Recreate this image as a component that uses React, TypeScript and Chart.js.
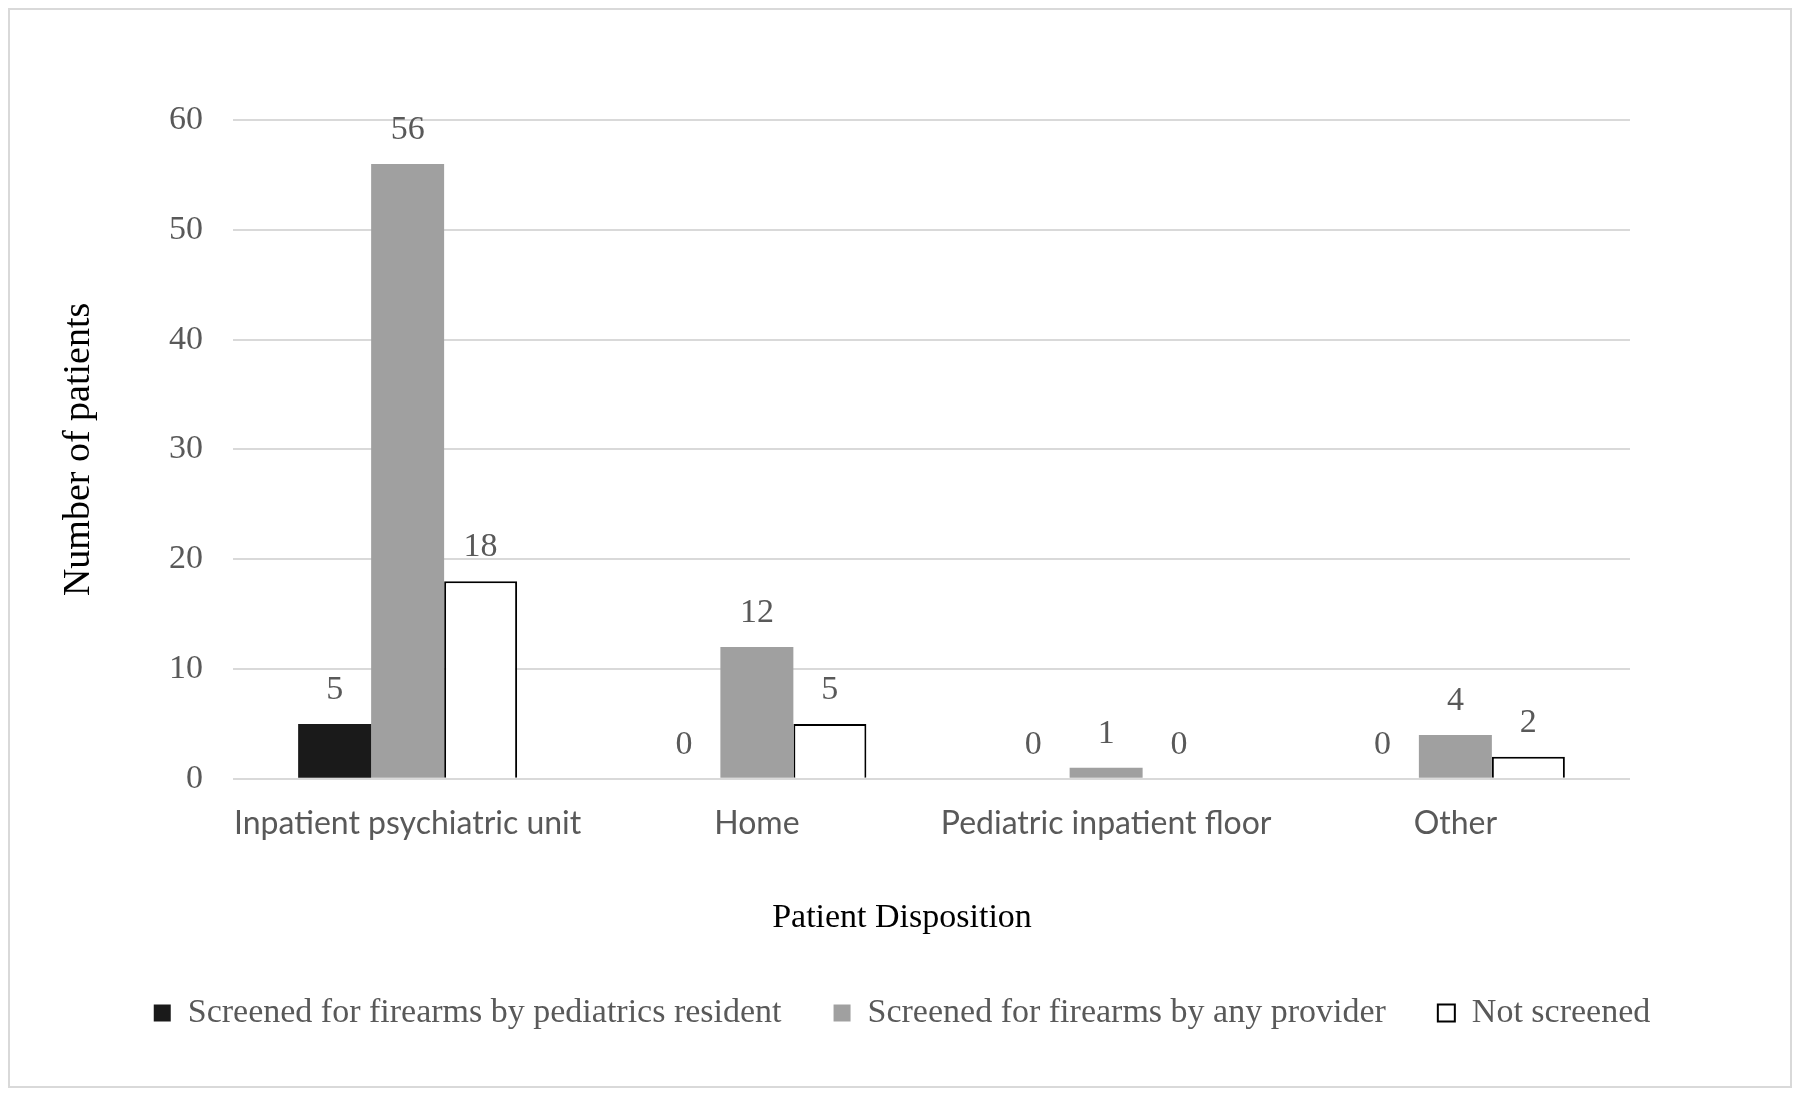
import React, { useEffect, useRef } from "react";
import { Chart, registerables } from "chart.js";

Chart.register(...registerables);

const categories = ["Inpatient psychiatric unit", "Home", "Pediatric inpatient floor", "Other"];
const screenedByResident = [5, 0, 0, 0];
const screenedByAnyProvider = [56, 12, 1, 4];
const notScreened = [18, 5, 0, 2];
const yTicks = [0, 10, 20, 30, 40, 50, 60];
const seriesLabels = [
  "Screened for firearms by pediatrics resident",
  "Screened for firearms by any provider",
  "Not screened",
];

const SERIF = "'Liberation Serif', 'Times New Roman', serif";
const SANS = "Lato, 'Open Sans', sans-serif";
const GRAY_TEXT = "#595959";

const valueLabels = {
  id: "valueLabels",
  afterDatasetsDraw(chart: any) {
    const ctx = chart.ctx;
    ctx.save();
    ctx.font = `34px ${SERIF}`;
    ctx.fillStyle = GRAY_TEXT;
    ctx.textAlign = "center";
    ctx.textBaseline = "middle";
    chart.data.datasets.forEach((ds: any, i: number) => {
      const meta = chart.getDatasetMeta(i);
      meta.data.forEach((el: any, j: number) => {
        ctx.fillText(String(ds.data[j]), el.x, el.y - 34);
      });
    });
    ctx.restore();
  },
};

export default function App() {
  const ref = useRef<HTMLCanvasElement | null>(null);

  useEffect(() => {
    if (!ref.current) return;
    const chart = new Chart(ref.current, {
      type: "bar",
      data: {
        labels: categories,
        datasets: [
          {
            label: seriesLabels[0],
            data: screenedByResident,
            backgroundColor: "#1a1a1a",
            borderWidth: 0,
            categoryPercentage: 0.627,
            barPercentage: 1.0,
          },
          {
            label: seriesLabels[1],
            data: screenedByAnyProvider,
            backgroundColor: "#a0a0a0",
            borderWidth: 0,
            categoryPercentage: 0.627,
            barPercentage: 1.0,
          },
          {
            label: seriesLabels[2],
            data: notScreened,
            backgroundColor: "#ffffff",
            borderColor: "#000000",
            borderWidth: 2,
            categoryPercentage: 0.627,
            barPercentage: 1.0,
          },
        ],
      },
      options: {
        responsive: false,
        animation: false,
        layout: { padding: { left: 20, right: 16, top: 110, bottom: 46 } },
        scales: {
          x: {
            grid: { display: false, drawTicks: false },
            border: { display: false },
            ticks: {
              color: GRAY_TEXT,
              font: { family: SANS, size: 32 },
              padding: 26,
              maxRotation: 0,
              autoSkip: false,
            },
          },
          y: {
            min: 0,
            max: 60,
            afterFit: (s: any) => {
              s.width = 203;
            },
            afterBuildTicks: (s: any) => {
              s.ticks = yTicks.map((v) => ({ value: v }));
            },
            grid: { color: "#d9d9d9", lineWidth: 2, drawTicks: false },
            border: { display: false },
            ticks: {
              color: GRAY_TEXT,
              font: { family: SERIF, size: 34 },
              padding: 30,
            },
            title: {
              display: true,
              text: "Number of patients",
              color: "#000000",
              font: { family: SERIF, size: 38 },
              padding: { top: 26, bottom: 0 },
            },
          },
          spacer: {
            type: "linear",
            position: "right",
            display: true,
            afterFit: (s: any) => {
              s.width = 144;
            },
            grid: { display: false, drawTicks: false },
            border: { display: false },
            ticks: { display: false },
          },
        },
        plugins: {
          legend: {
            position: "bottom",
            labels: {
              color: GRAY_TEXT,
              font: { family: SERIF, size: 34 },
              boxWidth: 17,
              boxHeight: 17,
              padding: 52,
            },
          },
          title: {
            display: true,
            position: "bottom",
            weight: 500,
            text: "Patient Disposition",
            color: "#000000",
            font: { family: SERIF, size: 34, weight: "normal" },
            padding: { top: 28, bottom: 6 },
          },
          tooltip: { enabled: false },
        },
      },
      plugins: [valueLabels],
    } as any);
    return () => chart.destroy();
  }, []);

  return (
    <div
      style={{
        width: 1780,
        height: 1076,
        border: "2px solid #d9d9d9",
        background: "#ffffff",
      }}
    >
      <canvas ref={ref} width={1780} height={1076} style={{ display: "block" }} />
    </div>
  );
}
